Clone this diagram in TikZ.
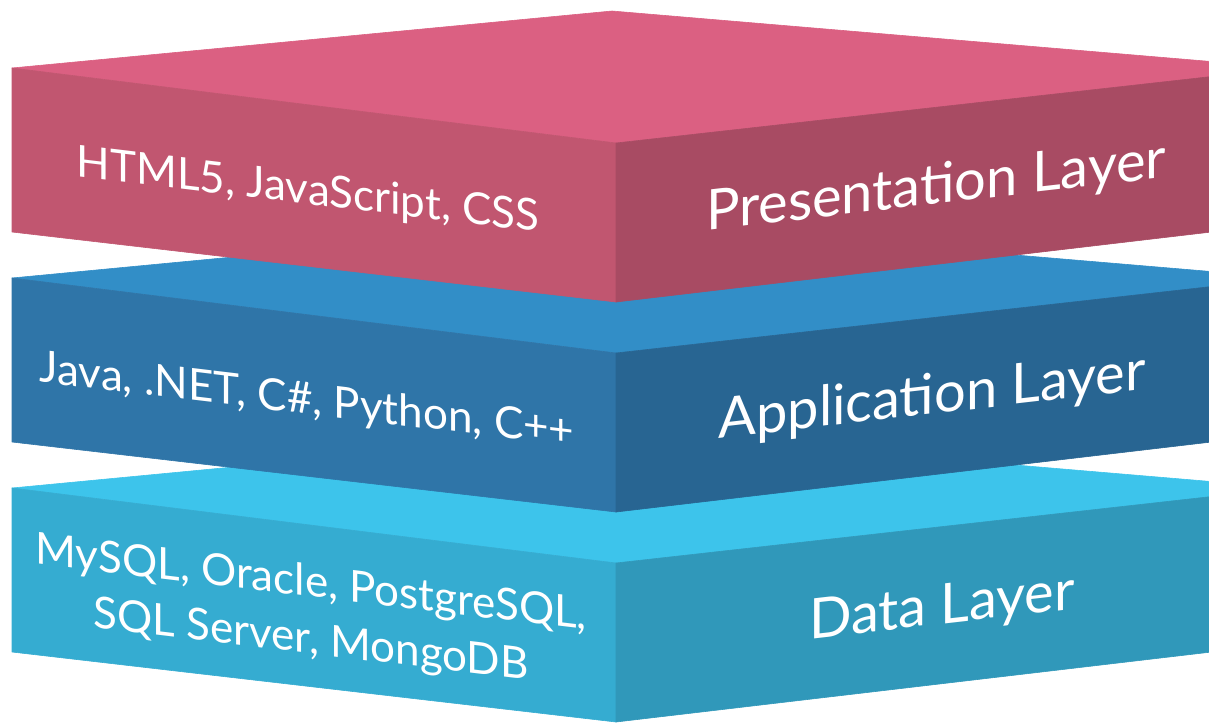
\documentclass[tikz,border=0pt]{standalone}
\usepackage{fontspec}
\setmainfont{Lato}
\usepackage{tikz}
\usetikzlibrary{calc}
\definecolor{presTop}{HTML}{DB6082}
\definecolor{presLeft}{HTML}{C15670}
\definecolor{presRight}{HTML}{A84B63}
\definecolor{appTop}{HTML}{328EC7}
\definecolor{appLeft}{HTML}{2F75A8}
\definecolor{appRight}{HTML}{286592}
\definecolor{dataTop}{HTML}{3DC4EB}
\definecolor{dataLeft}{HTML}{35ACD1}
\definecolor{dataRight}{HTML}{3098BA}
\tikzstyle{stack}=[
  x=1pt,y=-1pt
]
\tikzstyle{face}=[
  line width=0.6pt,line join=round
]
\tikzstyle{techtext}=[
  text=white,inner sep=0pt,anchor=base,transform shape,yslant=-0.12,
  font=\fontsize{44}{57}\selectfont
]
\tikzstyle{layertext}=[
  text=white,inner sep=0pt,anchor=base,transform shape,yslant=0.115,
  font=\fontsize{56}{60}\selectfont
]

\begin{document}
\begin{tikzpicture}[stack]
    \useasboundingbox (0,0) rectangle (1209,724);
    \clip (0,0) rectangle (1209,724);
    % data layer
    \coordinate (dL) at (12,488);
    \coordinate (dB) at (612,431);
    \coordinate (dR) at (1288,488);
    \coordinate (dF) at (616,563);
    \coordinate (dLb) at (12,652);
    \coordinate (dRb) at (1288,643);
    \coordinate (dFb) at (616,722);
    \path [face,fill=dataTop,draw=dataTop] (dL) -- (dB) -- (dR) -- (dF) -- cycle;
    \path [face,fill=dataLeft,draw=dataLeft] (dL) -- (dF) -- (dFb) -- (dLb) -- cycle;
    \path [face,fill=dataRight,draw=dataRight] (dF) -- (dR) -- (dRb) -- (dFb) -- cycle;
    % application layer
    \coordinate (aL) at (12,278);
    \coordinate (aB) at (612,221);
    \coordinate (aR) at (1288,278);
    \coordinate (aF) at (616,353);
    \coordinate (aLb) at (12,442);
    \coordinate (aRb) at (1288,433);
    \coordinate (aFb) at (616,512);
    \path [face,fill=appTop,draw=appTop] (aL) -- (aB) -- (aR) -- (aF) -- cycle;
    \path [face,fill=appLeft,draw=appLeft] (aL) -- (aF) -- (aFb) -- (aLb) -- cycle;
    \path [face,fill=appRight,draw=appRight] (aF) -- (aR) -- (aRb) -- (aFb) -- cycle;
    % presentation layer
    \coordinate (pL) at (12,68);
    \coordinate (pB) at (612,11);
    \coordinate (pR) at (1288,68);
    \coordinate (pF) at (616,143);
    \coordinate (pLb) at (12,232);
    \coordinate (pRb) at (1288,223);
    \coordinate (pFb) at (616,302);
    \path [face,fill=presTop,draw=presTop] (pL) -- (pB) -- (pR) -- (pF) -- cycle;
    \path [face,fill=presLeft,draw=presLeft] (pL) -- (pF) -- (pFb) -- (pLb) -- cycle;
    \path [face,fill=presRight,draw=presRight] (pF) -- (pR) -- (pRb) -- (pFb) -- cycle;
    % labels
    \node (html) at ($(pF) + (-308,61)$) [techtext] {HTML5, JavaScript, CSS};
    \node (pres) at ($(pF) + (320,61)$) [layertext] {Presentation Layer};
    \node (java) at ($(aF) + (-309,61)$) [techtext] {Java, .NET, C\#, Python, C++};
    \node (app) at ($(aF) + (316,61)$) [layertext] {Application Layer};
    \node (db) at ($(dF) + (-305,50)$) [techtext,anchor=center,align=center] {MySQL, Oracle, PostgreSQL,\\SQL Server, MongoDB};
    \node (data) at ($(dF) + (326,61)$) [layertext] {Data Layer};
\end{tikzpicture}
\end{document}
